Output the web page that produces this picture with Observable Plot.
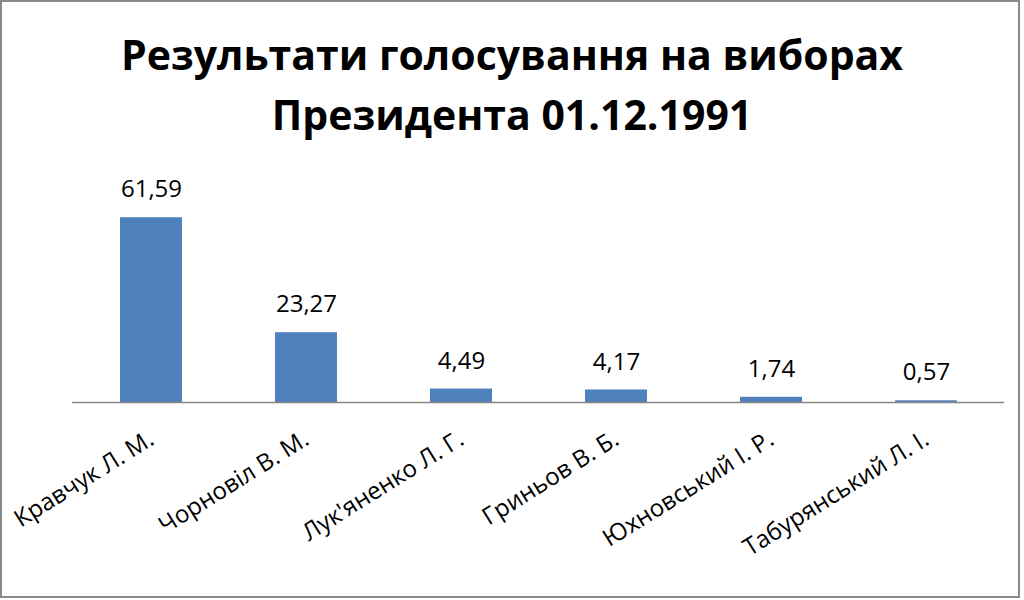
<!DOCTYPE html>
<html>
<head>
<meta charset="utf-8">
<script src="https://cdn.jsdelivr.net/npm/d3@7"></script>
<script src="https://cdn.jsdelivr.net/npm/@observablehq/plot@0.6"></script>
<style>
  html, body { margin: 0; padding: 0; background: #fff; }
  #page { position: relative; width: 1024px; height: 600px; overflow: hidden; background: #fff; }
  #frame { position: absolute; left: 0; top: 0; width: 1020px; height: 598px; box-sizing: border-box; border: 2px solid #898989; pointer-events: none; }
  #title { position: absolute; left: 0; top: 0; width: 1024px; height: 150px; box-sizing: border-box; padding-top: 24px;
           font-family: "Open Sans", sans-serif; font-weight: 700; font-size: 41px; line-height: 60px; text-align: center; color: #000; }
  #chart { position: absolute; left: 0; top: 150px; }
</style>
</head>
<body>
<div id="page">
  <div id="title">Результати голосування на виборах<br>Президента 01.12.1991</div>
  <div id="chart"></div>
  <div id="frame"></div>
</div>
<script>
const candidates = ["Кравчук Л. М.", "Чорновіл В. М.", "Лук'яненко Л. Г.", "Гриньов В. Б.", "Юхновський І. Р.", "Табурянський Л. І."];
const percents = [61.59, 23.27, 4.49, 4.17, 1.74, 0.57];

const data = candidates.map((c, i) => ({candidate: c, value: percents[i]}));
const fmt = v => v.toFixed(2).replace(".", ",");

const chart = Plot.plot({
  width: 1024,
  height: 450,
  marginLeft: 72,
  marginRight: 20,
  marginTop: 42,
  marginBottom: 198,
  x: {domain: candidates, paddingInner: 0.6, paddingOuter: 0.3, axis: null},
  y: {domain: [0, 70], axis: null},
  style: {fontFamily: "'Open Sans', sans-serif", background: "transparent"},
  marks: [
    Plot.barY(data, {x: "candidate", y: "value", fill: "#4F81BD"}),
    Plot.ruleY([0], {stroke: "#868686", strokeWidth: 1.5}),
    Plot.text(data, {x: "candidate", y: "value", text: d => fmt(d.value), dy: -28, lineAnchor: "middle", fontSize: 24, fill: "#000"}),
    Plot.text(data, {x: "candidate", y: () => 0, text: "candidate", rotate: -32, textAnchor: "end", lineAnchor: "bottom", dx: 4, dy: 41, fontSize: 24, fill: "#000"})
  ]
});
document.getElementById("chart").appendChild(chart);
</script>
</body>
</html>
